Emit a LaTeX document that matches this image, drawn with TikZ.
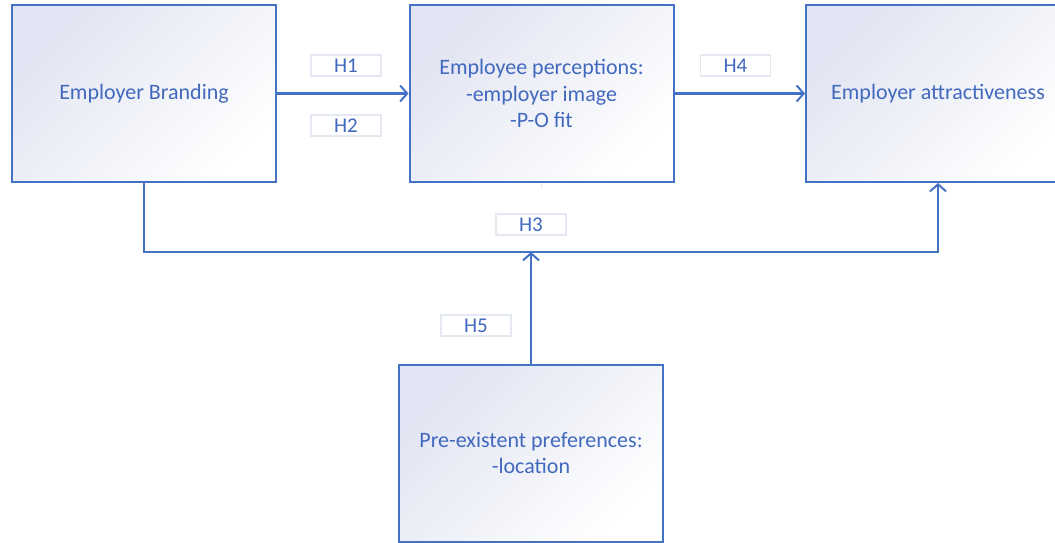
\documentclass[tikz,border=0pt]{standalone}
\usepackage{fontspec}
\setmainfont{Carlito}
\usetikzlibrary{arrows.meta}
\definecolor{boxblue}{HTML}{4472C4}
\definecolor{txtblue}{HTML}{4169BE}
\definecolor{lav}{HTML}{E1E4F2}
\definecolor{lblline}{HTML}{E4E8F2}
\tikzset{
  x=1pt, y=1pt,
  mainbox/.style={draw=boxblue, line width=2pt, minimum width=264pt, minimum height=177pt,
    inner sep=0pt, top color=lav, middle color=lav!40!white, bottom color=white, shading angle=45,
    text=txtblue, align=center, font=\fontsize{22}{26.5}\selectfont},
  hlabel/.style={draw=lblline, line width=1.5pt, fill=white, minimum width=70pt, minimum height=21pt,
    inner sep=0pt, text=txtblue, font=\fontsize{21}{24}\selectfont},
  conn/.style={draw=boxblue, line width=2.2pt},
  tip/.style={-{Straight Barb[length=7pt,width=16pt,line width=2pt]}}
}
\begin{document}
\begin{tikzpicture}
\useasboundingbox (0,0) rectangle (1055,-542);
\node[mainbox] (eb) at (144,-93.5) {Employer Branding};
\node[mainbox] (ep) at (541.5,-93.5) {Employee perceptions:\\-employer image\\-P-O fit};
\node[mainbox] (ea) at (938,-93.5) {Employer attractiveness};
\node[mainbox] (pp) at (531,-453) {Pre-existent preferences:\\-location};
\coordinate (bus) at (531,-252);
\coordinate (tickA) at (541,-183);
\coordinate (tickB) at (541,-189);
\draw[conn,tip] (eb.east) -- (ep.west);
\draw[conn,tip] (ep.east) -- (ea.west);
\draw[conn,tip] (eb.south) |- (bus) -| (ea.south);
\draw[conn,tip] (pp.north) -- (bus);
\draw[lblline, line width=1pt] (tickA) -- (tickB);
\node[hlabel] (h1) at (346,-65.5) {H1};
\node[hlabel] (h2) at (346,-125.5) {H2};
\node[hlabel] (h4) at (735.5,-65.5) {H4};
\node[hlabel] (h3) at (531,-224.5) {H3};
\node[hlabel] (h5) at (476,-325.5) {H5};
\end{tikzpicture}
\end{document}
